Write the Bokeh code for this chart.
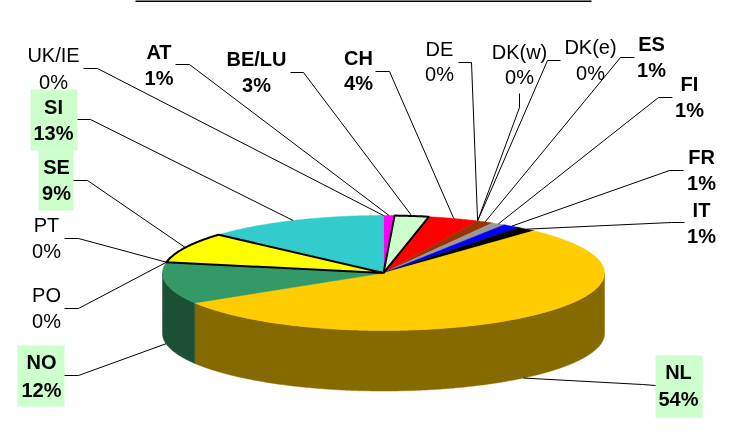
import numpy as np
from bokeh.plotting import figure
from bokeh.embed import file_html
from bokeh.resources import INLINE
from bokeh.core.properties import value

# data, clockwise from the top of the pie
categories = ["AT", "BE/LU", "CH", "DE", "DK(w)", "DK(e)", "ES", "FI", "FR", "IT",
              "NL", "NO", "PO", "PT", "SE", "SI", "UK/IE"]
values = [0.8, 2.5, 3.7, 0, 0, 0, 1.2, 1.0, 1.3, 1.4, 54.4, 11.7, 0, 0, 8.6, 13.4, 0]
pct_labels = ["1%", "3%", "4%", "0%", "0%", "0%", "1%", "1%", "1%", "1%",
              "54%", "12%", "0%", "0%", "9%", "13%", "0%"]
bold = ["AT", "BE/LU", "CH", "ES", "FI", "FR", "IT", "NL", "NO", "SE", "SI"]
boxed = ["NL", "NO", "SE", "SI"]
outlined = ["BE/LU", "SE"]
colors = ["#FF00FF", "#CCFFCC", "#FF0000", "#FFFFFF", "#FFFFFF", "#FFFFFF", "#993300", "#999999",
          "#0000FF", "#000000", "#FFCC00", "#339966", "#FFFFFF", "#FFFFFF", "#FFFF00", "#33CCCC", "#FFFFFF"]
side_colors = {"NL": "#856A00", "NO": "#1C5036"}

# layout (pixels of the picture)
CX, CY, RX, RY, DEPTH = 383.0, 272.5, 221.0, 57.5, 60.5
# label: centre x, baseline 1, baseline 2
label_pos = {
    "UK/IE": (53, 54, 81), "AT": (158.5, 51, 77), "BE/LU": (256, 58, 84), "CH": (358, 57, 82),
    "DE": (439, 48, 73), "DK(w)": (519, 51, 76), "DK(e)": (590, 46, 72), "ES": (651, 43, 69),
    "FI": (689, 83, 109), "FR": (701, 156, 182), "IT": (701, 209, 235), "SI": (53, 106, 132),
    "SE": (56, 166, 192), "PT": (46, 224, 250), "PO": (46, 294, 320), "NO": (41, 361, 389),
    "NL": (678, 371, 398),
}
# leader: start and elbow
leader_pos = {
    "UK/IE": ((83, 68), (97, 68)), "AT": ((175, 64), (189, 64)), "BE/LU": ((290, 72), (303, 72)),
    "CH": ((375, 71), (389, 71)), "DE": ((458, 62), (471, 62)), "DK(w)": ((519, 93), (519, 107)),
    "DK(e)": ((560, 60), (547, 60)), "ES": ((634, 57), (620, 57)), "FI": ((672, 97), (658, 97)),
    "FR": ((683, 170), (669, 170)), "IT": ((684, 222), (671, 222)), "NL": ((655, 385), (642, 384)),
    "NO": ((64, 375), (78, 375)), "PO": ((64, 308), (78, 308)), "PT": ((64, 238), (78, 238)),
    "SE": ((73, 180), (87, 180)), "SI": ((77, 119), (90, 119)),
}
box_pos = {"SI": (30, 77, 89, 150), "SE": (38, 73, 150, 210), "NO": (17, 64, 345, 406), "NL": (655, 702, 355, 417)}

p = figure(width=751, height=436, x_range=(0, 751), y_range=(436, 0), output_backend="svg",
           toolbar_location=None, min_border=0, outline_line_color=None,
           stylesheets=[":host{position:fixed !important;left:0;top:0;}"])
p.axis.visible = False
p.grid.visible = False


def rim(a, b, drop=0.0):
    t = np.radians(np.linspace(a, b, max(2, int(abs(b - a) * 2) + 2)))
    return CX + RX * np.sin(t), CY - RY * np.cos(t) + drop


total = sum(values)
edges = np.concatenate([[0.0], np.cumsum(values)]) * 360.0 / total

# front wall
for cat, a, b in zip(categories, edges[:-1], edges[1:]):
    lo, hi = max(a, 90.0), min(b, 270.0)
    if hi > lo and cat in side_colors:
        tx, ty = rim(lo, hi)
        bx, by = rim(hi, lo, DEPTH)
        p.patch(np.concatenate([tx, bx]), np.concatenate([ty, by]), fill_color=side_colors[cat],
                line_color=side_colors[cat], line_width=0.5)

# top wedges, outlined ones last
order = sorted(range(len(categories)), key=lambda i: categories[i] in outlined)
for i in order:
    a, b = edges[i], edges[i + 1]
    if b <= a:
        continue
    x, y = rim(a, b)
    xs = np.concatenate([[CX], x, [CX]])
    ys = np.concatenate([[CY], y, [CY]])
    if categories[i] in outlined:
        p.patch(xs, ys, fill_color=colors[i], line_color="#000000", line_width=2)
    else:
        p.patch(xs, ys, fill_color=colors[i], line_color=colors[i], line_width=0.5)

# label backgrounds
for cat in boxed:
    l, r, t, b = box_pos[cat]
    p.quad(left=[l], right=[r], top=[t], bottom=[b], fill_color="#CCFFCC", line_color=None)

# leaders, ending on the rim at the middle of each wedge
for i, cat in enumerate(categories):
    mid = (edges[i] + edges[i + 1]) / 2.0
    ax, ay = rim(mid, mid)
    drop = DEPTH if 90 < mid < 270 and values[i] > 0 else 0.0
    s, e = leader_pos[cat]
    p.line([s[0], e[0], ax[0]], [s[1], e[1], ay[0] + drop], line_color="#000000", line_width=1)

# texts
for i, cat in enumerate(categories):
    x, y1, y2 = label_pos[cat]
    style = "bold" if cat in bold else "normal"
    p.text(x=[x, x], y=[y1, y2], text=[cat, pct_labels[i]], text_align="center",
           text_baseline="alphabetic", text_font=value("Liberation Sans"), text_font_size="20px",
           text_font_style=style, text_color="#000000")

# cropped rule at the very top
p.line([135, 591], [0.5, 0.5], line_color="#000000", line_width=2)

open("out.html", "w").write(file_html(p, INLINE))
